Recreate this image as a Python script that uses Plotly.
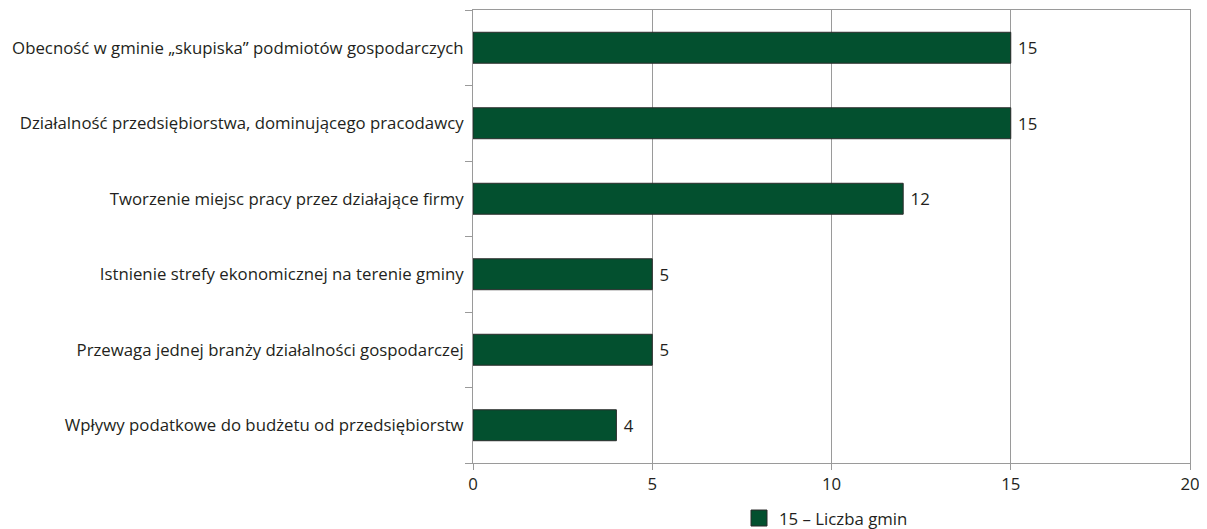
import plotly.graph_objects as go

categories = [
    "Obecność w gminie „skupiska” podmiotów gospodarczych",
    "Działalność przedsiębiorstwa, dominującego pracodawcy",
    "Tworzenie miejsc pracy przez działające firmy",
    "Istnienie strefy ekonomicznej na terenie gminy",
    "Przewaga jednej branży działalności gospodarczej",
    "Wpływy podatkowe do budżetu od przedsiębiorstw",
]
values = [15, 15, 12, 5, 5, 4]
x_ticks = [0, 5, 10, 15, 20]
legend_label = "15 – Liczba gmin"

GREEN = "#03502f"
EDGE = "#2b2b2b"
GRID = "#9a9a9a"
TXT = "#231f20"
FONT = "Open Sans"
FS = 16.8

fig = go.Figure()
fig.add_trace(go.Bar(
    y=categories, x=values, orientation="h",
    marker=dict(color=GREEN, line=dict(color=EDGE, width=1)),
    width=0.41,
    text=["\u00a0" + str(v) for v in values], textposition="outside",
    textfont=dict(family=FONT, size=FS, color=TXT),
    cliponaxis=False, showlegend=False,
))
fig.add_trace(go.Scatter(
    x=[None], y=[None], mode="markers", name=legend_label,
    marker=dict(symbol="square", size=21, color=GREEN, line=dict(color=EDGE, width=1)),
    showlegend=True,
))

# page body has an 8px default margin: compensate in size and margins
fig.update_layout(
    width=1199, height=521,
    margin=dict(l=465, r=17, t=2, b=66, autoexpand=False),
    paper_bgcolor="white", plot_bgcolor="white",
    font=dict(family=FONT, size=FS, color=TXT),
    showlegend=True,
    legend=dict(orientation="h", x=0.371, xanchor="left", y=-0.083, yanchor="top",
                font=dict(family=FONT, size=FS, color=TXT),
                itemsizing="trace", bgcolor="rgba(0,0,0,0)"),
)
fig.update_xaxes(
    range=[0, 20], tickvals=x_ticks, ticktext=[str(t) for t in x_ticks],
    showgrid=True, gridcolor=GRID, gridwidth=1,
    showline=True, linecolor=GRID, linewidth=1, mirror=True,
    ticks="outside", ticklen=6, tickcolor=GRID,
    zeroline=False, fixedrange=True,
)
fig.update_yaxes(
    categoryorder="array", categoryarray=categories[::-1],
    tickson="boundaries", ticks="outside", ticklen=7, tickcolor=GRID,
    ticklabelstandoff=5,
    showline=True, linecolor=GRID, linewidth=1, mirror=True,
    showgrid=False, fixedrange=True,
)

fig.write_html("out.html")
